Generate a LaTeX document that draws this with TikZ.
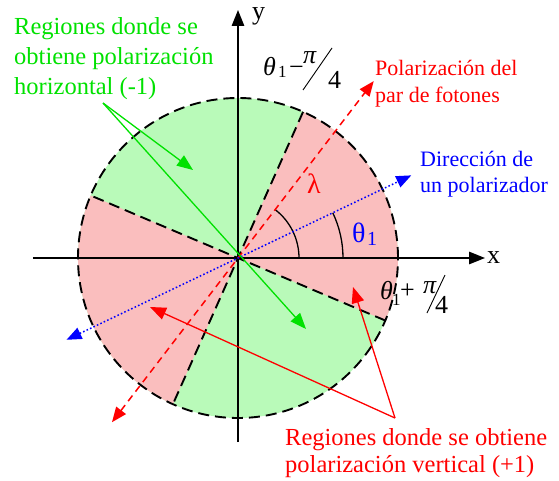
\documentclass[tikz,border=0pt]{standalone}
\usepackage{fontspec}
\setmainfont{Liberation Serif}
\usetikzlibrary{arrows.meta}
\definecolor{tgreen}{RGB}{0,225,0}
\definecolor{tred}{RGB}{255,0,0}
\definecolor{tblue}{RGB}{0,0,255}
\definecolor{gfill}{RGB}{185,250,185}
\definecolor{rfill}{RGB}{250,190,190}
\begin{document}
\begin{tikzpicture}[x=1pt,y=1pt,
  tipend/.style={-{Triangle[length=16pt,width=12.5pt]}},
  tipboth/.style={{Triangle[length=15pt,width=12pt]}-{Triangle[length=15pt,width=12pt]}},
  bnd/.style={line width=1.9pt,dash pattern=on 11pt off 6pt},
  axisln/.style={line width=1.3pt,black},
  arcln/.style={line width=1.3pt,black},
  gline/.style={line width=1.3pt,tgreen},
  rline/.style={line width=1.3pt,tred},
  rdash/.style={line width=1.5pt,tred,dash pattern=on 7pt off 5pt},
  bdot/.style={line width=1.5pt,tblue,dash pattern=on 1.6pt off 2.2pt},
  lbl/.style={inner sep=0pt,anchor=base west},
  gtxt/.style={lbl,text=tgreen,font=\fontsize{24.5}{29}\selectfont},
  rtxt/.style={lbl,text=tred,font=\fontsize{24.5}{29}\selectfont},
  rtxts/.style={lbl,text=tred,font=\fontsize{22}{26}\selectfont},
  btxt/.style={lbl,text=tblue,font=\fontsize{22}{26}\selectfont},
  mtxt/.style={lbl,font=\fontsize{26}{26}\selectfont},
  stxt/.style={lbl,font=\fontsize{17}{17}\selectfont}
]
\useasboundingbox (-238,-222) rectangle (321,258);
\coordinate (O) at (0,0);
% regions
\fill[gfill] (O) circle (160pt);
\fill[rfill] (O) -- (-23:160pt) arc[start angle=-23,end angle=66,radius=160pt] -- cycle;
\fill[rfill] (O) -- (157:160pt) arc[start angle=157,end angle=246,radius=160pt] -- cycle;
% boundaries
\coordinate (b1a) at (66:160pt); \coordinate (b1b) at (246:160pt);
\coordinate (b2a) at (-23:160pt); \coordinate (b2b) at (157:160pt);
\draw[bnd] (b1a) -- (b1b);
\draw[bnd] (b2a) -- (b2b);
\draw[bnd] (O) circle (160pt);
% axes
\coordinate (xa) at (-205,0); \coordinate (xb) at (247,0);
\coordinate (ya) at (0,-184); \coordinate (yb) at (0,248);
\draw[axisln,tipend] (xa) -- (xb);
\draw[axisln,tipend] (ya) -- (yb);
\node[mtxt] (xlab) at (249,-5) {x};
\node[mtxt] (ylab) at (14,238) {y};
% angle arcs
\draw[arcln] (61pt,0) arc[start angle=0,end angle=52.5,radius=61pt];
\draw[arcln] (105pt,0) arc[start angle=0,end angle=25.5,radius=105pt];
% photon pair polarization
\coordinate (pa) at (232.5:207pt); \coordinate (pb) at (52.5:223pt);
\draw[rdash,tipboth] (pa) -- (pb);
% polarizer direction
\coordinate (da) at (205.5:190pt); \coordinate (db) at (25.5:192pt);
\draw[bdot,tipboth] (da) -- (db);
% green pointers
\coordinate (ga) at (-135,155);
\coordinate (gt1) at (-45,88);
\coordinate (gt2) at (68,-71);
\draw[gline,tipend] (ga) -- (gt1);
\draw[gline,tipend] (ga) -- (gt2);
% red pointers
\coordinate (ra) at (157,-160);
\coordinate (rt1) at (115,-29);
\coordinate (rt2) at (-88,-49);
\draw[rline,tipend] (ra) -- (rt1);
\draw[rline,tipend] (ra) -- (rt2);
% texts
\node[gtxt] (g1) at (-224,223) {Regiones donde se};
\node[gtxt] (g2) at (-224,193.5) {obtiene polarización};
\node[gtxt] (g3) at (-224,164) {horizontal (-1)};
\node[rtxts] (p1) at (137,183) {Polarización del};
\node[rtxts] (p2) at (137,156) {par de fotones};
\node[btxt] (d1) at (182,92) {Dirección de};
\node[btxt] (d2) at (182,66) {un polarizador};
\node[rtxt] (r1) at (47,-187) {Regiones donde se obtiene};
\node[rtxt] (r2) at (47,-214) {polarización vertical (+1)};
% lambda and theta1
\node[lbl,text=tred,font=\fontsize{28}{28}\selectfont] (lam) at (69,65) {λ};
\node[lbl,text=tblue,font=\fontsize{28}{28}\selectfont] (th) at (114,16) {θ};
\node[lbl,text=tblue,font=\fontsize{20}{20}\selectfont] (th1) at (129,13) {1};
% theta1 - pi/4
\node[mtxt] (ta) at (25,183) {\itshape θ};
\node[stxt] (ta1) at (40,181) {1};
\node[mtxt] (tam) at (51,183) {−};
\node[mtxt] (tapi) at (65,195) {\itshape π};
\coordinate (tsa) at (65,168); \coordinate (tsb) at (94,210);
\draw[line width=0.9pt] (tsa) -- (tsb);
\node[mtxt] (ta4) at (90,170) {4};
% theta1 + pi/4
\node[mtxt] (tb) at (142,-41) {\itshape θ};
\node[stxt] (tb1) at (154,-47) {1};
\node[mtxt] (tbp) at (162,-40) {+};
\node[mtxt] (tbpi) at (185,-35) {\itshape π};
\coordinate (tbsa) at (189,-55); \coordinate (tbsb) at (207,-17);
\draw[line width=0.9pt] (tbsa) -- (tbsb);
\node[mtxt] (tb4) at (197,-55) {4};
\end{tikzpicture}
\end{document}
